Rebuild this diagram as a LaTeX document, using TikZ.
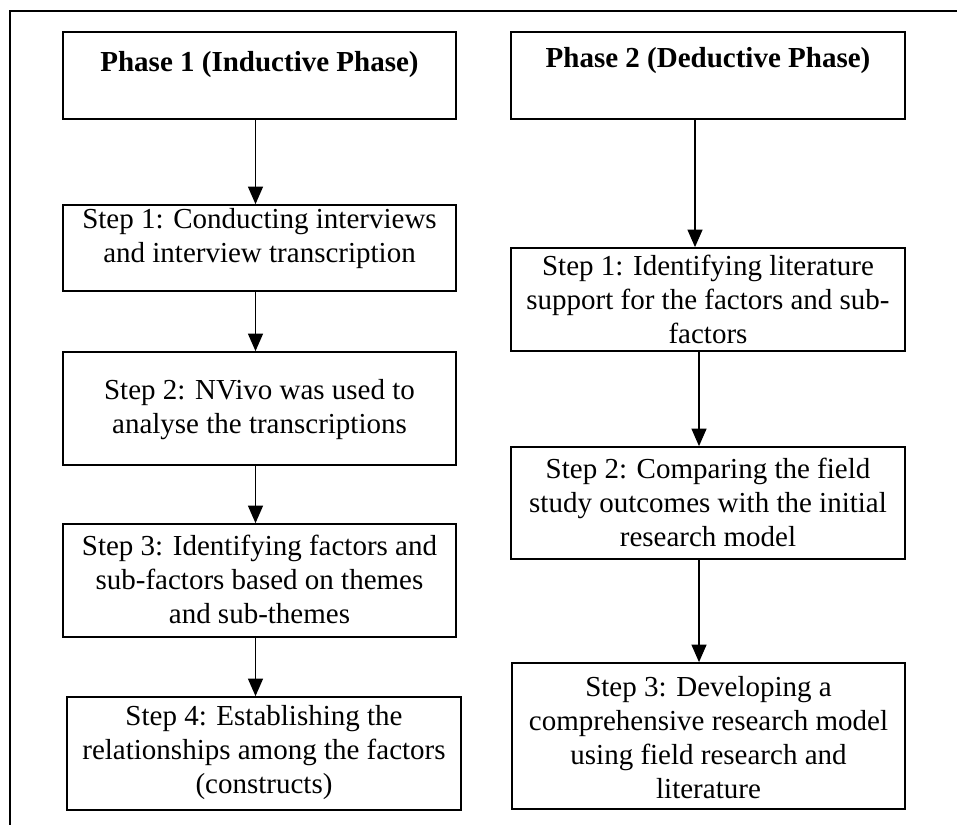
\documentclass[tikz,border=0pt]{standalone}
\usepackage{fontspec}
\setmainfont{Liberation Serif}
\usetikzlibrary{arrows.meta,fit}
\begin{document}
\begin{tikzpicture}[x=0.4pt,y=-0.4pt,
  box/.style={draw, line width=0.7pt, inner sep=0pt},
  txt/.style={align=center, font=\fontsize{11.6}{13.6}\selectfont, inner sep=0pt},
  head/.style={align=center, font=\fontsize{11.6}{13.6}\selectfont\bfseries, inner sep=0pt},
  flow/.style={line width=0.5pt, -{Triangle[length=7pt,width=6pt]}},
  frame/.style={line width=0.7pt}]
\useasboundingbox (0,0) rectangle (957,825);

% outer frame (top and left edges)
\coordinate (fTR) at (957,11);
\coordinate (fTL) at (10,11);
\coordinate (fBL) at (10,825);
\draw[frame] (fTR) -- (fTL) -- (fBL);

% left column: inductive phase
\node[box, fit={(63,32) (456,119)}] (p1) {};
\node[box, fit={(63,205) (456,291)}] (s1l) {};
\node[box, fit={(63,352) (456,465)}] (s2l) {};
\node[box, fit={(63,524) (456,637)}] (s3l) {};
\node[box, fit={(67,697) (461,810)}] (s4l) {};

\node[head] (p1t) at (259.5,65) {Phase 1 (Inductive Phase)};
\node[txt] (s1lt) at (259.5,239) {Step 1: Conducting interviews\\and interview transcription};
\node[txt] (s2lt) at (259.5,410) {Step 2: NVivo was used to\\analyse the transcriptions};
\node[txt] (s3lt) at (259.5,579) {Step 3: Identifying factors and\\sub-factors based on themes\\and sub-themes};
\node[txt] (s4lt) at (264,753) {Step 4: Establishing the\\relationships among the factors\\(constructs)};

% right column: deductive phase
\node[box, fit={(511,32) (905,119)}] (p2) {};
\node[box, fit={(511,248) (905,351)}] (s1r) {};
\node[box, fit={(511,447) (905,559)}] (s2r) {};
\node[box, fit={(512,663) (905,809)}] (s3r) {};

\node[head] (p2t) at (708,61) {Phase 2 (Deductive Phase)};
\node[txt] (s1rt) at (708,299) {Step 1: Identifying literature\\support for the factors and sub-\\factors};
\node[txt] (s2rt) at (708,502) {Step 2: Comparing the field\\study outcomes with the initial\\research model};
\node[txt] (s3rt) at (708.5,738) {Step 3: Developing a\\comprehensive research model\\using field research and\\literature};

% arrow columns
\coordinate (xl) at (255.5,0);
\coordinate (xr1) at (695,0);
\coordinate (xr) at (699,0);

\draw[flow] (p1.south -| xl) -- (s1l.north -| xl);
\draw[flow] (s1l.south -| xl) -- (s2l.north -| xl);
\draw[flow] (s2l.south -| xl) -- (s3l.north -| xl);
\draw[flow] (s3l.south -| xl) -- (s4l.north -| xl);

\draw[flow] (p2.south -| xr1) -- (s1r.north -| xr1);
\draw[flow] (s1r.south -| xr) -- (s2r.north -| xr);
\draw[flow] (s2r.south -| xr) -- (s3r.north -| xr);
\end{tikzpicture}
\end{document}
